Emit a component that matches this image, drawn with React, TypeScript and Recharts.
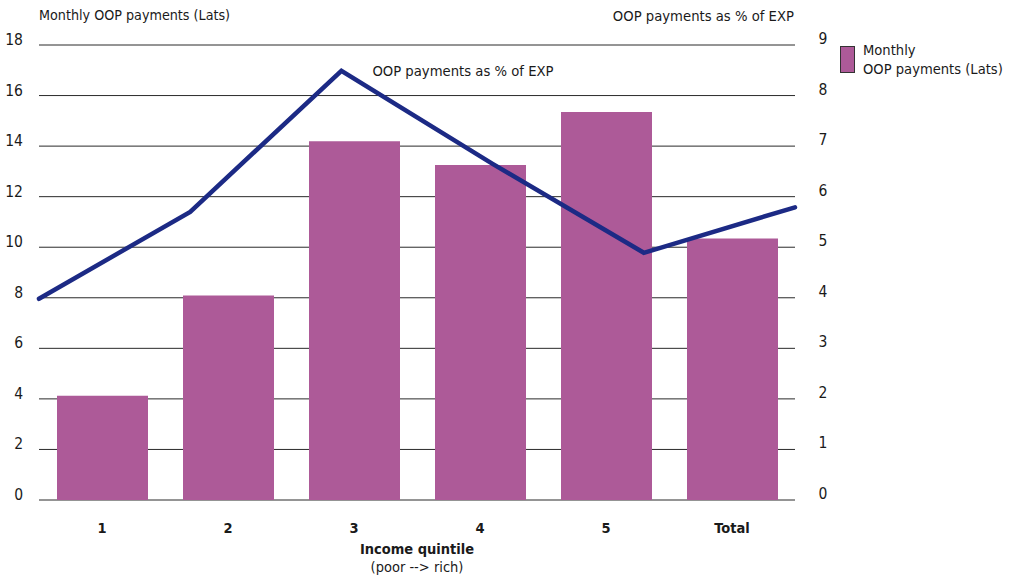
import React from "react";
import {
  ComposedChart,
  Bar,
  Line,
  XAxis,
  YAxis,
  CartesianGrid,
} from "recharts";

const quintiles = ["1", "2", "3", "4", "5", "Total"];
const monthlyOop = [4.12, 8.09, 14.19, 13.25, 15.35, 10.35];
const oopPctExp = [3.98, 5.7, 8.49, 6.65, 4.89, 5.79];
const leftTicks = [0, 2, 4, 6, 8, 10, 12, 14, 16, 18];
const rightTicks = [0, 1, 2, 3, 4, 5, 6, 7, 8, 9];

const data = quintiles.map((q, i) => ({
  name: q,
  idx: i,
  oop: monthlyOop[i],
  pct: oopPctExp[i],
}));

const FONT = "'DejaVu Sans Condensed', 'Liberation Sans', sans-serif";
const BAR = "#ad5a98";
const LINE = "#1c2a85";
const TEXT = "#1a1a1a";

const LeftTick = (props: any) => {
  const { y, payload } = props;
  return (
    <text x={23} y={y - 5} dy={5} textAnchor="end" fill={TEXT} fontSize={15.5} fontFamily={FONT}>
      {payload.value}
    </text>
  );
};

const RightTick = (props: any) => {
  const { x, y, payload } = props;
  return (
    <text x={x + 20} y={y - 6} dy={5} textAnchor="middle" fill={TEXT} fontSize={15.5} fontFamily={FONT}>
      {payload.value}
    </text>
  );
};

const CatTick = (props: any) => {
  const { x, y, payload } = props;
  return (
    <text x={x} y={y + 25} textAnchor="middle" fill={TEXT} fontSize={14.5} fontWeight="bold" fontFamily={FONT}>
      {payload.value}
    </text>
  );
};

const PeakLabel = (props: any) => {
  const { x, y, index } = props;
  if (index !== 2) return null;
  return (
    <text x={x + 31} y={y + 5} fill={TEXT} fontSize={14.7} fontFamily={FONT}>
      OOP payments as % of EXP
    </text>
  );
};

export default function App() {
  return (
    <div
      style={{
        position: "absolute",
        left: 0,
        top: 0,
        width: 1015,
        height: 576,
        background: "#fff",
        fontFamily: FONT,
        color: TEXT,
      }}
    >
      <div style={{ position: "absolute", left: 39, top: 7, fontSize: 14.2, whiteSpace: "nowrap" }}>
        Monthly OOP payments (Lats)
      </div>
      <div style={{ position: "absolute", right: 1015 - 794, top: 7, fontSize: 14.7, whiteSpace: "nowrap" }}>
        OOP payments as % of EXP
      </div>

      <div style={{ position: "absolute", left: 840, top: 46, display: "flex", alignItems: "flex-start" }}>
        <div
          style={{
            width: 13,
            height: 25,
            background: BAR,
            border: "1px solid #333",
          }}
        />
        <div style={{ marginLeft: 8, marginTop: -6, fontSize: 14.6, lineHeight: "19px", whiteSpace: "nowrap" }}>
          Monthly
          <br />
          OOP payments (Lats)
        </div>
      </div>

      <ComposedChart
        width={1015}
        height={576}
        data={data}
        margin={{ top: 45, right: 180, bottom: 46, left: 0 }}
      >
        <CartesianGrid
          xAxisId="cat"
          yAxisId="left"
          vertical={false}
          stroke="#2a2a2a"
          strokeWidth={1}
        />
        <XAxis
          xAxisId="cat"
          dataKey="name"
          axisLine={false}
          tickLine={false}
          tick={<CatTick />}
          height={30}
          interval={0}
        />
        <XAxis
          xAxisId="pt"
          dataKey="idx"
          type="number"
          domain={[0, 5]}
          hide
        />
        <YAxis
          yAxisId="left"
          width={39}
          domain={[0, 18]}
          ticks={leftTicks}
          axisLine={false}
          tickLine={false}
          tick={<LeftTick />}
          interval={0}
        />
        <YAxis
          yAxisId="right"
          orientation="right"
          width={40}
          domain={[0, 9]}
          ticks={rightTicks}
          axisLine={false}
          tickLine={false}
          tick={<RightTick />}
          interval={0}
        />
        <Bar
          xAxisId="cat"
          yAxisId="left"
          dataKey="oop"
          fill={BAR}
          barSize={91}
          isAnimationActive={false}
        />
        <Line
          xAxisId="pt"
          yAxisId="right"
          dataKey="pct"
          type="linear"
          stroke={LINE}
          strokeWidth={4.5}
          strokeLinecap="round"
          dot={false}
          activeDot={false}
          label={<PeakLabel />}
          isAnimationActive={false}
        />
      </ComposedChart>

      <div
        style={{
          position: "absolute",
          left: 39,
          width: 756,
          top: 540,
          textAlign: "center",
          fontSize: 14.5,
          lineHeight: "18px",
        }}
      >
        <div style={{ fontWeight: "bold" }}>Income quintile</div>
        <div>(poor --&gt; rich)</div>
      </div>
    </div>
  );
}
